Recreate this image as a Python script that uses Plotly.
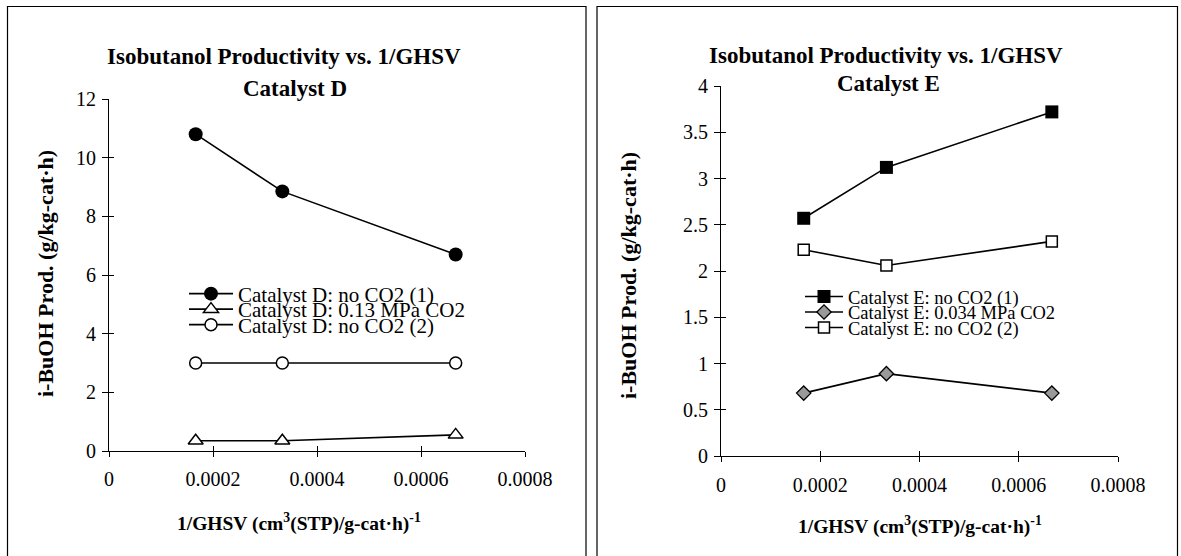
import plotly.graph_objects as go

W, H = 1181, 556

# ---------------- data ----------------
x_vals = [1/6000, 1/3000, 1/1500]

d_names = ["Catalyst D: no CO2 (1)", "Catalyst D: 0.13 MPa CO2", "Catalyst D: no CO2 (2)"]
d_no_co2_1 = [10.8, 8.85, 6.7]
d_co2 = [0.35, 0.35, 0.55]
d_no_co2_2 = [3.0, 3.0, 3.0]

e_names = ["Catalyst E: no CO2 (1)", "Catalyst E: 0.034 MPa CO2", "Catalyst E: no CO2 (2)"]
e_no_co2_1 = [2.57, 3.12, 3.72]
e_co2 = [0.68, 0.89, 0.68]
e_no_co2_2 = [2.23, 2.06, 2.32]

x_ticks = [0, 0.0002, 0.0004, 0.0006, 0.0008]
x_ticktext = ["0", "0.0002", "0.0004", "0.0006", "0.0008"]
d_yticks = [0, 2, 4, 6, 8, 10, 12]
e_yticks = [0, 0.5, 1, 1.5, 2, 2.5, 3, 3.5, 4]
e_yticktext = ["0", "0.5", "1", "1.5", "2", "2.5", "3", "3.5", "4"]

title_1 = "Isobutanol Productivity vs. 1/GHSV"
ytitle = "i-BuOH Prod. (g/kg-cat·h)"
xtitle = "1/GHSV (cm<sup>3</sup>(STP)/g-cat·h)<sup>-1</sup>"

FONT = "Liberation Serif"

def px(x):
    return x / W

def py(y):
    return 1 - y / H

fig = go.Figure()

line = dict(color="black", width=1.6)

def add(xs, ys, name, marker, xa, ya, leg):
    fig.add_trace(go.Scatter(x=xs, y=ys, name=name, mode="lines+markers", line=line,
                             marker=marker, xaxis=xa, yaxis=ya, legend=leg))

add(x_vals, d_no_co2_1, d_names[0], dict(symbol="circle", size=14, color="black"), "x", "y", "legend")
add(x_vals, d_co2, d_names[1], dict(symbol="triangle-up", size=13, color="white",
                                    line=dict(color="black", width=1.5)), "x", "y", "legend2")
add(x_vals, d_no_co2_2, d_names[2], dict(symbol="circle", size=12, color="white",
                                         line=dict(color="black", width=1.5)), "x", "y", "legend3")
add(x_vals, e_no_co2_1, e_names[0], dict(symbol="square", size=13, color="black"), "x2", "y2", "legend4")
add(x_vals, e_co2, e_names[1], dict(symbol="diamond", size=11, color="#9a9a9a",
                                    line=dict(color="black", width=1.3)), "x2", "y2", "legend5")
add(x_vals, e_no_co2_2, e_names[2], dict(symbol="square", size=11, color="white",
                                         line=dict(color="black", width=1.5)), "x2", "y2", "legend6")

tickfont = dict(family=FONT, size=20, color="black")

L_dom_x = [px(109), px(525)]
L_dom_y = [py(451), py(99)]
R_dom_x = [px(721), px(1118)]
R_dom_y = [py(456), py(86)]

common_x = dict(range=[0, 0.0008], tickmode="array", tickvals=x_ticks, ticktext=x_ticktext,
                showgrid=False, zeroline=False, showline=True, linecolor="black", linewidth=1,
                ticks="outside", ticklen=5, tickcolor="black", tickwidth=1, tickfont=tickfont,
                fixedrange=True, automargin=False)
common_y = dict(showgrid=False, zeroline=False, showline=True, linecolor="black", linewidth=1,
                ticks="outside", ticklen=6, tickcolor="black", tickwidth=1, tickfont=tickfont,
                tickmode="array", fixedrange=True, automargin=False)

def overlay(over, anchor, rng, vals):
    return dict(overlaying=over, anchor=anchor, range=rng, tickmode="array", tickvals=vals,
                showticklabels=False, ticks="inside", ticklen=5, tickcolor="black",
                showgrid=False, zeroline=False, showline=False, fixedrange=True, automargin=False)

def leg(xp, yp, iw, fs):
    return dict(x=px(xp), y=py(yp), xanchor="left", yanchor="middle", bgcolor="rgba(0,0,0,0)",
                font=dict(family=FONT, size=fs, color="black"), itemwidth=iw, borderwidth=0)

fig.update_layout(
    xaxis=dict(domain=L_dom_x, anchor="y", ticklabelstandoff=5, **common_x),
    yaxis=dict(domain=L_dom_y, anchor="x", range=[0, 12], tickvals=d_yticks, ticklabelstandoff=2,
               **common_y),
    xaxis2=dict(domain=R_dom_x, anchor="y2", ticklabelstandoff=6, **common_x),
    yaxis2=dict(domain=R_dom_y, anchor="x2", range=[0, 4], tickvals=e_yticks,
                ticktext=e_yticktext, ticklabelstandoff=2, **common_y),
    xaxis3=overlay("x", "y", [0, 0.0008], x_ticks),
    yaxis3=overlay("y", "x", [0, 12], d_yticks),
    xaxis4=overlay("x2", "y2", [0, 0.0008], x_ticks),
    yaxis4=overlay("y2", "x2", [0, 4], e_yticks),
    legend=leg(184, 294, 44, 21),
    legend2=leg(184, 309.5, 44, 21),
    legend3=leg(184, 325, 44, 21),
    legend4=leg(800, 297, 38, 18.5),
    legend5=leg(800, 312.5, 38, 18.5),
    legend6=leg(800, 328, 38, 18.5),
    width=W, height=H, margin=dict(l=0, r=0, t=0, b=0, autoexpand=False),
    paper_bgcolor="white", plot_bgcolor="white",
    font=dict(family=FONT, color="black"),
)

fig.add_trace(go.Scatter(x=[None], y=[None], xaxis="x3", yaxis="y3", showlegend=False, hoverinfo="skip"))
fig.add_trace(go.Scatter(x=[None], y=[None], xaxis="x4", yaxis="y4", showlegend=False, hoverinfo="skip"))

bold = dict(family=FONT, size=23, color="black")
xbold = dict(family=FONT, size=19.5, color="black")
ybold = dict(family=FONT, size=22, color="black")

ann = []
for cx, cx2, t2, y1, y2 in [(284, 295, "Catalyst D", 56, 88), (886, 888, "Catalyst E", 55, 84)]:
    ann.append(dict(x=px(cx), y=py(y1), xref="paper", yref="paper", text="<b>" + title_1 + "</b>",
                    showarrow=False, font=bold, xanchor="center", yanchor="middle"))
    ann.append(dict(x=px(cx2), y=py(y2), xref="paper", yref="paper", text="<b>" + t2 + "</b>",
                    showarrow=False, font=bold, xanchor="center", yanchor="middle"))
for cx, cy in [(45, 274), (628, 276)]:
    ann.append(dict(x=px(cx), y=py(cy), xref="paper", yref="paper", text="<b>" + ytitle + "</b>",
                    showarrow=False, font=ybold, textangle=-90, xanchor="center", yanchor="middle"))
for cx, cy in [(299, 522), (920, 525)]:
    ann.append(dict(x=px(cx), y=py(cy), xref="paper", yref="paper", text="<b>" + xtitle + "</b>",
                    showarrow=False, font=xbold, xanchor="center", yanchor="middle"))
fig.update_layout(annotations=ann)

shapes = [
    dict(type="rect", xref="paper", yref="paper", x0=px(7.5), x1=px(586), y0=-0.01, y1=py(6.5),
         line=dict(color="black", width=1.2), fillcolor="rgba(0,0,0,0)", layer="below"),
    dict(type="rect", xref="paper", yref="paper", x0=px(597), x1=px(1177.5), y0=-0.01, y1=py(6.5),
         line=dict(color="black", width=1.2), fillcolor="rgba(0,0,0,0)", layer="below"),
]
fig.update_layout(shapes=shapes)

fig.write_html("out.html",
               post_script="document.body.style.margin='0';document.body.style.overflow='hidden';")
